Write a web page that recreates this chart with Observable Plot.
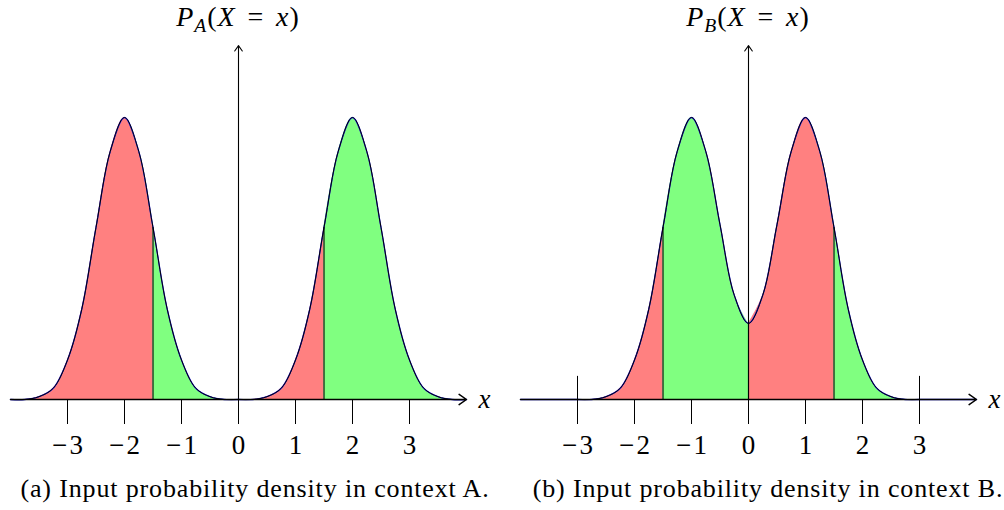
<!DOCTYPE html>
<html><head><meta charset="utf-8">
<script src="https://cdn.jsdelivr.net/npm/d3@7"></script>
<script src="https://cdn.jsdelivr.net/npm/@observablehq/plot@0.6"></script>
<style>
body{margin:0;background:#fff;}
#root{position:relative;width:1004px;height:510px;font-family:"Liberation Serif",serif;color:#000;overflow:hidden;}
.panel{position:absolute;top:0;width:502px;height:470px;}
.panel svg{overflow:visible;}
.ylab{position:absolute;top:1px;font-size:28px;line-height:32px;letter-spacing:1px;white-space:nowrap;transform:translateX(-50%);}
.ylab sub{font-size:70%;vertical-align:-0.3em;line-height:0;}
.ylab .eq{padding:0 0.42em;}
.cap{position:absolute;top:474px;font-size:26px;line-height:30px;letter-spacing:0.85px;white-space:nowrap;transform:translateX(-50%);}
</style></head><body><div id="root"></div>
<script>
// x sample positions (every 0.25 units)
const xs = [-4,-3.75,-3.5,-3.25,-3,-2.75,-2.5,-2.25,-2,-1.75,-1.5,-1.25,-1,-0.75,-0.5,-0.25,0,
            0.25,0.5,0.75,1,1.25,1.5,1.75,2,2.25,2.5,2.75,3,3.25,3.5,3.75,4];
// relative density (peak = 1)
const densityA = [0,0,0.01,0.04,0.14,0.32,0.61,0.88,1.00,0.88,0.61,0.32,0.14,0.04,0.01,0,0,
                  0,0.01,0.04,0.14,0.32,0.61,0.88,1.00,0.88,0.61,0.32,0.14,0.04,0.01,0,0];
// relative density (peak = 1)
const densityB = [0,0,0,0,0,0,0.01,0.04,0.14,0.32,0.61,0.88,1.00,0.88,0.62,0.37,0.27,
                  0.37,0.62,0.88,1.00,0.88,0.61,0.32,0.14,0.04,0.01,0,0,0,0,0,0];
const xDomain = [-4, 4];
const cuts = [-1.5, 0, 1.5];
const regionColors = ["#ff8080", "#80ff80", "#ff8080", "#80ff80"];
const tickValues = [-3, -2, -1, 0, 1, 2, 3];
const tallTicksB = [-3, 3];
const tallTickTop = 0.082;
const yAxisTop = 1.255;
const yLabels = [["P","A"],["P","B"]];
const captions = ["(a) Input probability density in context A.", "(b) Input probability density in context B."];

const root = document.getElementById("root");
const fmt = d => d < 0 ? "\u2212\u200a" + (-d) : String(d);

function makePanel(dens, xRange, tall) {
  const table = xs.map((x, i) => ({x, y: dens[i]}));
  const bounds = [xDomain[0], ...cuts, xDomain[1]];
  const regions = [];
  for (let r = 0; r < bounds.length - 1; r++)
    for (const d of table) if (d.x >= bounds[r] && d.x <= bounds[r + 1]) regions.push({...d, r});
  const cutRows = cuts.map(c => table.find(d => d.x === c));
  const H = 470, base = 399;
  return Plot.plot({
    width: 502, height: H,
    marginTop: 0, marginBottom: H - base, marginLeft: 0, marginRight: 0,
    x: {domain: xDomain, range: xRange},
    y: {domain: [0, 1], range: [base, 117], axis: null},
    style: {fontFamily: "'Liberation Serif', serif", fontSize: "26px", overflow: "visible", background: "transparent"},
    marks: [
      Plot.areaY(regions, {x: "x", y1: 0, y2: "y", z: "r", fill: d => regionColors[d.r], curve: "catmull-rom"}),
      Plot.line(table, {x: "x", y: "y", stroke: "#2020e0", strokeWidth: 1.3, curve: "catmull-rom"}),
      Plot.line(table, {x: "x", y: "y", stroke: "#000", strokeWidth: 1, curve: "catmull-rom"}),
      Plot.ruleX(cutRows, {x: "x", y1: 0, y2: "y", stroke: "#000", strokeWidth: 1.1}),
      tall ? Plot.ruleX(tallTicksB, {x: d => d, y1: 0, y2: tallTickTop, stroke: "#000", strokeWidth: 1}) : null,
      Plot.axisX({ticks: tickValues, tickSize: 25, tickPadding: 10, tickFormat: fmt, label: null,
                  fontSize: 27, tickStrokeWidth: 1}),
      Plot.arrow([{x1: xDomain[0], x2: xDomain[1]}], {x1: "x1", x2: "x2", y1: 0, y2: 0,
                  stroke: "#000", strokeWidth: 1.5, headLength: 9, headAngle: 70}),
      Plot.arrow([{x: 0}], {x1: "x", x2: "x", y1: 0, y2: yAxisTop,
                  stroke: "#000", strokeWidth: 1.1, headLength: 9, headAngle: 70}),
      Plot.text([xDomain[1]], {x: d => d, y: 0, text: () => "x", dx: 18, fontStyle: "italic",
                 fontSize: 27, textAnchor: "middle", fill: "#000"})
    ]
  });
}

const specs = [
  {dens: densityA, range: [10, 466], left: 0, zero: 238, cap: 255, tall: false},
  {dens: densityB, range: [18, 474], left: 502, zero: 748, cap: 768, tall: true}
];
specs.forEach((s, i) => {
  const div = document.createElement("div");
  div.className = "panel";
  div.style.left = s.left + "px";
  div.appendChild(makePanel(s.dens, s.range, s.tall));
  root.appendChild(div);
  const lab = document.createElement("div");
  lab.className = "ylab";
  lab.style.left = s.zero + "px";
  lab.innerHTML = "<i>" + yLabels[i][0] + "</i><sub><i>" + yLabels[i][1] + "</i></sub>(<i>X</i><span class=\"eq\">=</span><i>x</i>)";
  root.appendChild(lab);
  const cap = document.createElement("div");
  cap.className = "cap";
  cap.style.left = s.cap + "px";
  cap.textContent = captions[i];
  root.appendChild(cap);
});
</script></body></html>
